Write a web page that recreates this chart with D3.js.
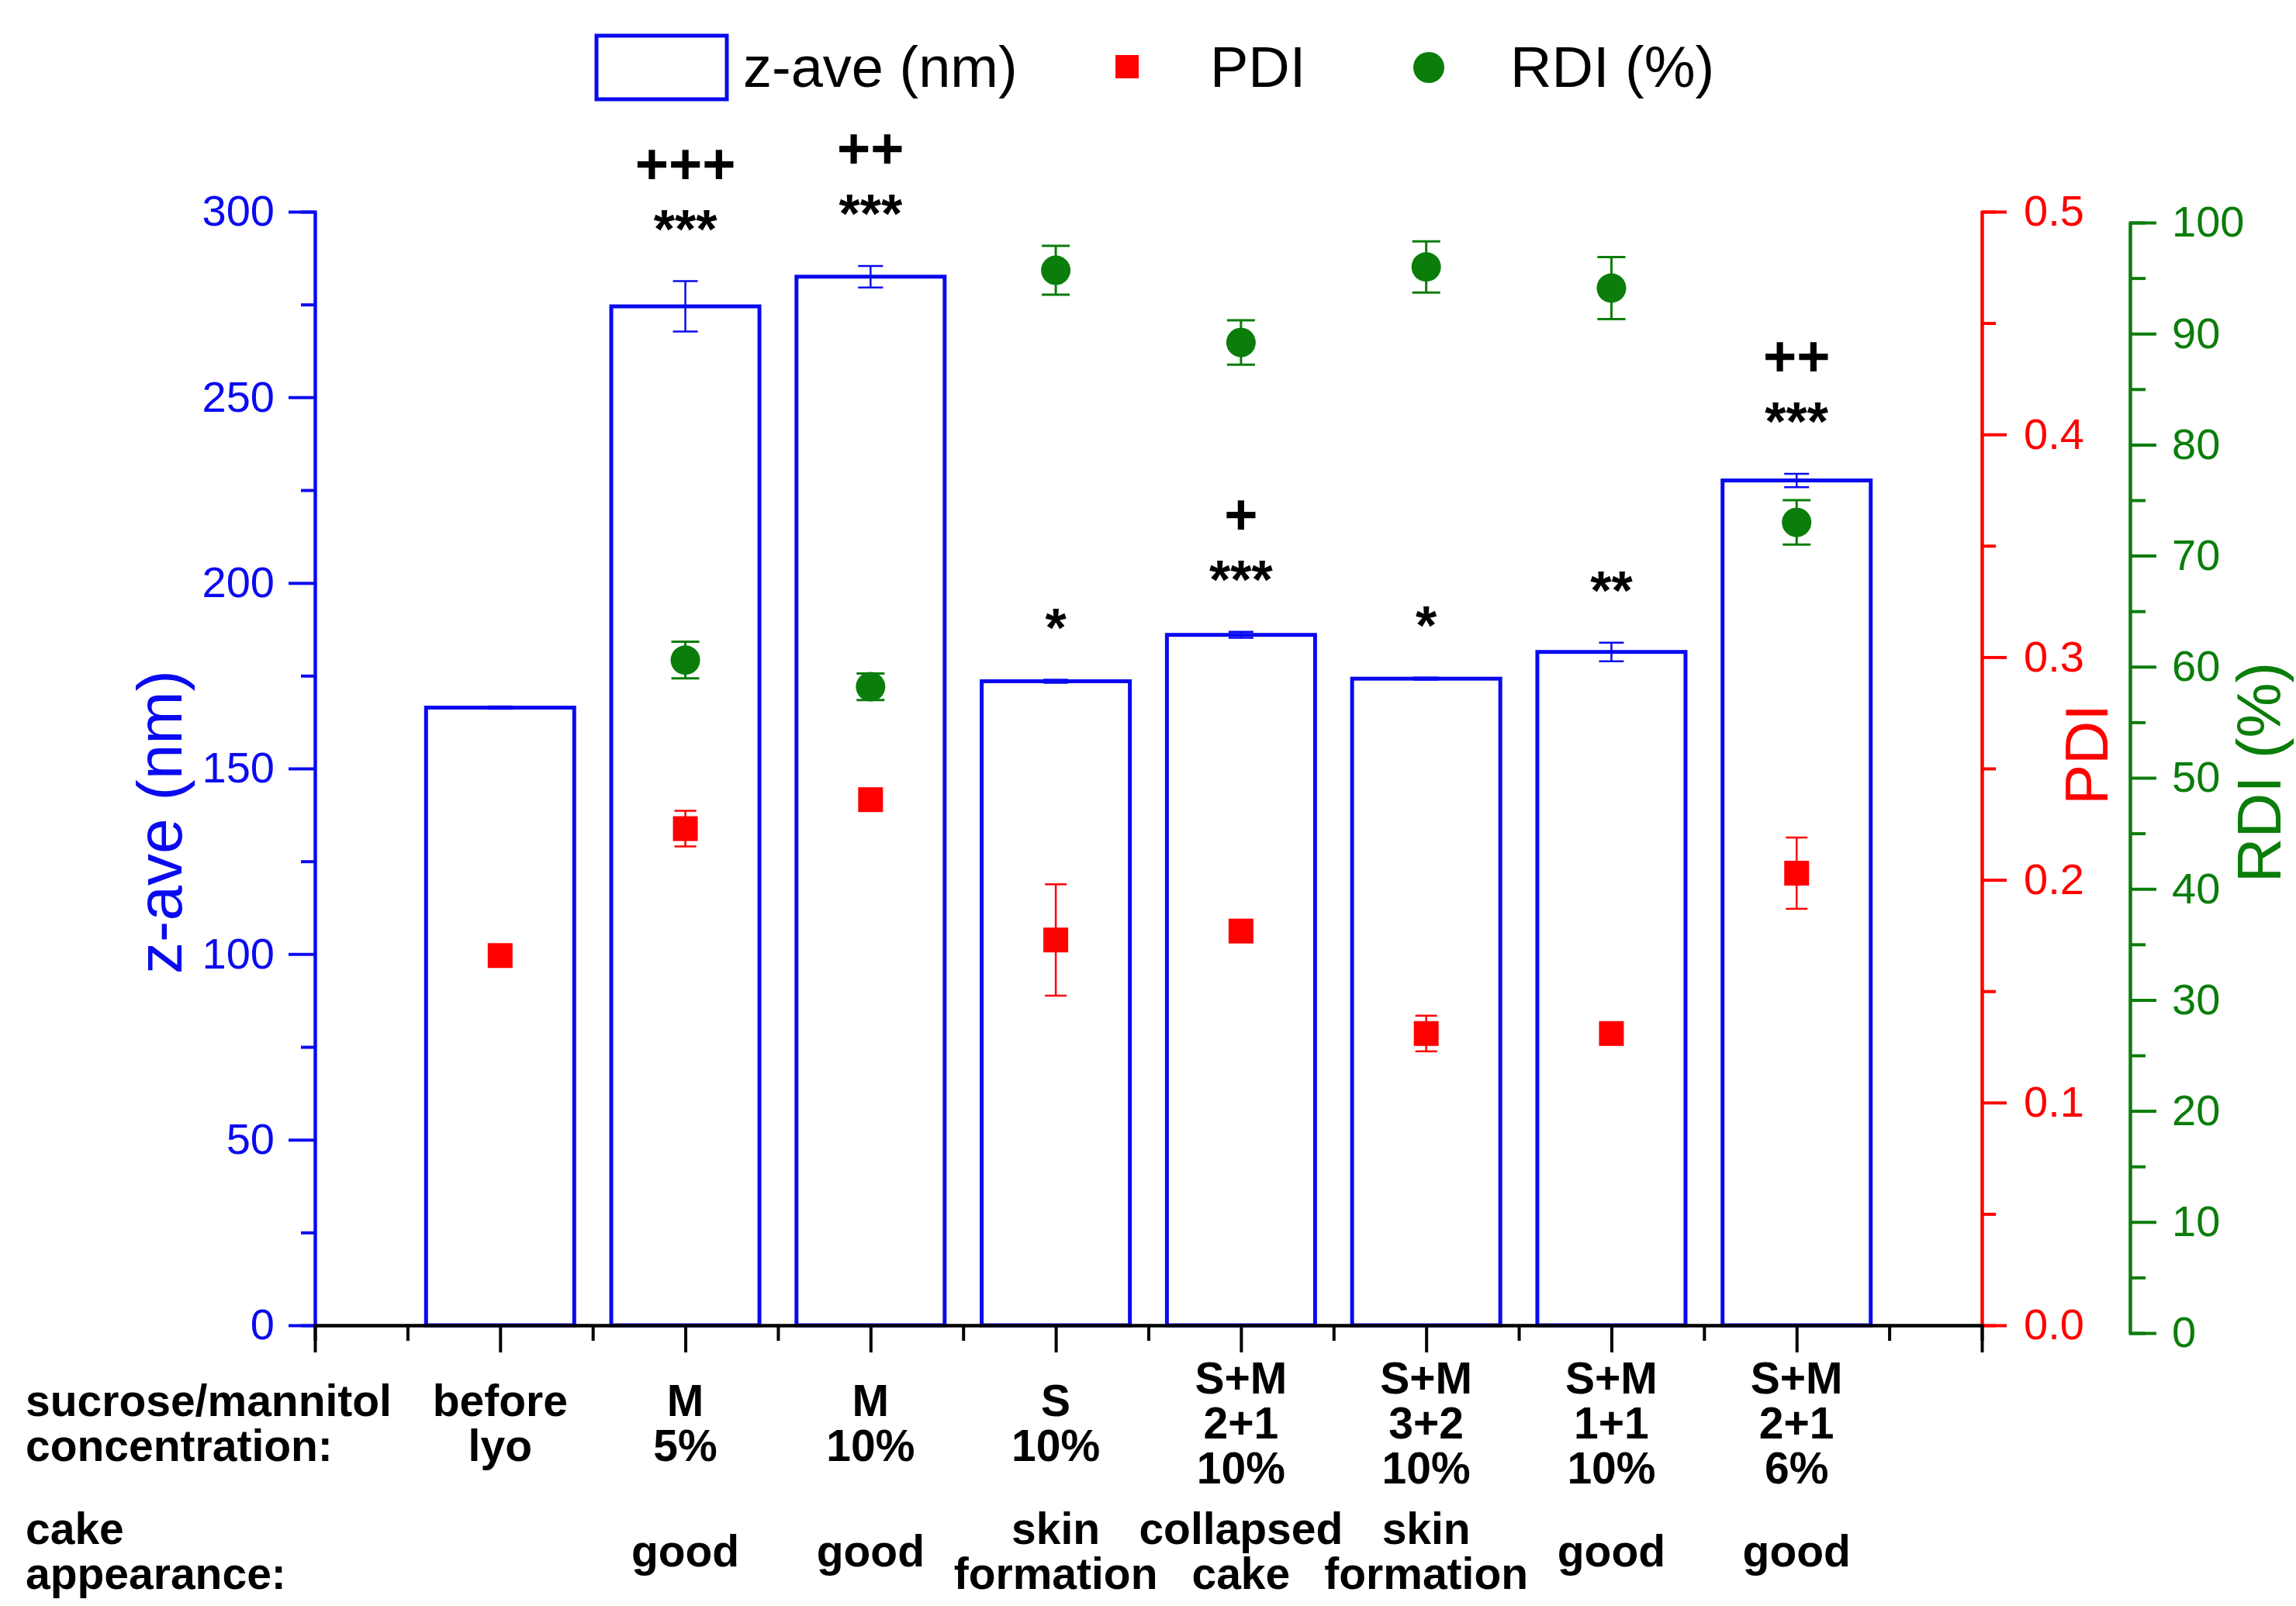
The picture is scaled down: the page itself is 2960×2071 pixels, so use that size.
<!DOCTYPE html>
<html>
<head>
<meta charset="utf-8">
<script src="https://cdn.jsdelivr.net/npm/d3@7"></script>
<style>
  body { margin: 0; background: #fff; }
  svg { display: block; font-family: "Liberation Sans", Arial, sans-serif; }
</style>
</head>
<body>
<div id="chart"></div>
<script>
// ---- data ----
const categories = ["before lyo", "M 5%", "M 10%", "S 10%", "S+M 2+1 10%", "S+M 3+2 10%", "S+M 1+1 10%", "S+M 2+1 6%"];
const zAve    = [166.4, 274.5, 282.5, 173.5, 186.0, 174.2, 181.4, 227.6];
const zAveErr = [0.3, 6.8, 2.9, 0.4, 0.8, 0.3, 2.5, 1.8];
const pdi     = [0.166, 0.223, 0.236, 0.173, 0.177, 0.131, 0.131, 0.203];
const pdiErr  = [0, 0.008, 0, 0.025, 0, 0.008, 0, 0.016];
const rdi     = [null, 60.6, 58.2, 95.7, 89.2, 96.0, 94.1, 73.0];
const rdiErr  = [0, 1.65, 1.2, 2.2, 2.0, 2.3, 2.8, 2.0];
const stars   = ["", "***", "***", "*", "***", "*", "**", "***"];
const plusses = ["", "+++", "++", "", "+", "", "", "++"];
const concLabels = [["before", "lyo"], ["M", "5%"], ["M", "10%"], ["S", "10%"],
  ["S+M", "2+1", "10%"], ["S+M", "3+2", "10%"], ["S+M", "1+1", "10%"], ["S+M", "2+1", "6%"]];
const cakeLabels = [[], ["good"], ["good"], ["skin", "formation"], ["collapsed", "cake"],
  ["skin", "formation"], ["good"], ["good"]];
const zTicks = [0, 50, 100, 150, 200, 250, 300];
const pdiTicks = [0, 0.1, 0.2, 0.3, 0.4, 0.5];
const rdiTicks = [0, 10, 20, 30, 40, 50, 60, 70, 80, 90, 100];

const width = 2960, height = 2071;
const BLUE = "#0a0af0", RED = "#ff0000", GREEN = "#0a7d0a";

const svg = d3.select("#chart").append("svg")
    .attr("width", width)
    .attr("height", height);

// scales: categories sit on 1..8, axis runs 0..9
const x = d3.scaleLinear().domain([0, 9]).range([406, 2555]);
const yZ = d3.scaleLinear().domain([0, 300]).range([1709, 273]);
const yP = d3.scaleLinear().domain([0, 0.5]).range([1709, 273]);
const yR = d3.scaleLinear().domain([0, 100]).range([1719, 287]);
const band = (x(1) - x(0)) * 0.8;

const data = categories.map((c, i) => ({
  i, c, z: zAve[i], zErr: zAveErr[i], p: pdi[i], pErr: pdiErr[i], r: rdi[i], rErr: rdiErr[i]
}));

// helper for styling an axis group
const styleAxis = (g, color, fs) => {
  g.selectAll("path, line").attr("stroke", color).attr("stroke-width", 4);
  g.selectAll("text").attr("fill", color).attr("font-size", fs);
};

// ---- bars ----
svg.append("g").selectAll("rect")
    .data(data)
    .join("rect")
    .attr("x", d => x(d.i + 1) - band / 2)
    .attr("y", d => yZ(d.z))
    .attr("width", band)
    .attr("height", d => yZ(0) - yZ(d.z))
    .attr("fill", "none")
    .attr("stroke", BLUE)
    .attr("stroke-width", 5);

// generic error bar drawer
const errorBars = (rows, yScale, val, err, color, cap, sw) => {
  const g = svg.append("g").attr("stroke", color).attr("stroke-width", sw);
  rows.forEach(d => {
    const cx = x(d.i + 1), lo = yScale(val(d) - err(d)), hi = yScale(val(d) + err(d));
    g.append("line").attr("x1", cx).attr("x2", cx).attr("y1", lo).attr("y2", hi);
    [lo, hi].forEach(yy => g.append("line")
        .attr("x1", cx - cap / 2).attr("x2", cx + cap / 2)
        .attr("y1", yy).attr("y2", yy));
  });
};

errorBars(data, yZ, d => d.z, d => d.zErr, BLUE, 32, 2.5);
errorBars(data.filter(d => d.pErr > 0), yP, d => d.p, d => d.pErr, RED, 28, 2.5);
errorBars(data.filter(d => d.r !== null), yR, d => d.r, d => d.rErr, GREEN, 36, 3);

// ---- PDI squares ----
svg.append("g").selectAll("rect")
    .data(data)
    .join("rect")
    .attr("x", d => x(d.i + 1) - 16)
    .attr("y", d => yP(d.p) - 16)
    .attr("width", 32)
    .attr("height", 32)
    .attr("fill", RED);

// ---- RDI circles ----
svg.append("g").selectAll("circle")
    .data(data.filter(d => d.r !== null))
    .join("circle")
    .attr("cx", d => x(d.i + 1))
    .attr("cy", d => yR(d.r))
    .attr("r", 19)
    .attr("fill", GREEN);

// ---- significance marks above bars ----
const marks = svg.append("g")
    .attr("text-anchor", "middle")
    .attr("font-weight", "bold")
    .attr("fill", "#000");
data.forEach(d => {
  const c = yZ(d.z + d.zErr) - 84;   // visual centre of the star row
  if (stars[d.i]) marks.append("text")
      .attr("x", x(d.i + 1)).attr("y", c + 41)
      .attr("font-size", 70).text(stars[d.i]);
  if (plusses[d.i]) marks.append("text")
      .attr("x", x(d.i + 1)).attr("y", c - 68 + 26)
      .attr("font-size", 74).text(plusses[d.i]);
});

// ---- axes ----
const leftMajor = svg.append("g").attr("transform", `translate(${x(0)},0)`)
    .call(d3.axisLeft(yZ).tickValues(zTicks).tickSize(34).tickSizeOuter(0).tickPadding(18));
styleAxis(leftMajor, BLUE, 56);
const leftMinor = svg.append("g").attr("transform", `translate(${x(0)},0)`)
    .call(d3.axisLeft(yZ).tickValues(d3.range(25, 300, 50)).tickSize(18).tickFormat(""));
styleAxis(leftMinor, BLUE, 56);

const pdiMajor = svg.append("g").attr("transform", `translate(${x(9)},0)`)
    .call(d3.axisRight(yP).tickValues(pdiTicks).tickSize(32).tickSizeOuter(0)
      .tickPadding(22).tickFormat(d3.format(".1f")));
styleAxis(pdiMajor, RED, 56);
const pdiMinor = svg.append("g").attr("transform", `translate(${x(9)},0)`)
    .call(d3.axisRight(yP).tickValues(d3.range(0.05, 0.5, 0.1)).tickSize(18).tickFormat(""));
styleAxis(pdiMinor, RED, 56);

const rdiMajor = svg.append("g").attr("transform", "translate(2746,0)")
    .call(d3.axisRight(yR).tickValues(rdiTicks).tickSize(34).tickSizeOuter(0).tickPadding(20));
styleAxis(rdiMajor, GREEN, 56);
const rdiMinor = svg.append("g").attr("transform", "translate(2746,0)")
    .call(d3.axisRight(yR).tickValues(d3.range(5, 100, 10)).tickSize(20).tickFormat(""));
styleAxis(rdiMinor, GREEN, 56);

const bottomMajor = svg.append("g").attr("transform", `translate(0,${yZ(0)})`)
    .call(d3.axisBottom(x).tickValues(d3.range(0, 10)).tickSize(35).tickSizeOuter(0).tickFormat(""));
styleAxis(bottomMajor, "#000", 56);
const bottomMinor = svg.append("g").attr("transform", `translate(0,${yZ(0)})`)
    .call(d3.axisBottom(x).tickValues(d3.range(0.5, 9, 1)).tickSize(20).tickFormat(""));
styleAxis(bottomMinor, "#000", 56);

// axis titles
svg.append("text")
    .attr("transform", "translate(205,1060) rotate(-90)")
    .attr("text-anchor", "middle").attr("dy", "0.35em")
    .attr("font-size", 82).attr("fill", BLUE).text("z-ave (nm)");
svg.append("text")
    .attr("transform", "translate(2690,973) rotate(-90)")
    .attr("text-anchor", "middle").attr("dy", "0.35em")
    .attr("font-size", 78).attr("fill", RED).text("PDI");
svg.append("text")
    .attr("transform", "translate(2912,996) rotate(-90)")
    .attr("text-anchor", "middle").attr("dy", "0.35em")
    .attr("font-size", 80).attr("fill", GREEN).text("RDI (%)");

// ---- category labels under the axis ----
const multiLine = (g, lines, cx, centre, gap, anchor) => {
  const first = centre + 20 - (lines.length - 1) * gap / 2;
  lines.forEach((t, k) => g.append("text")
      .attr("x", cx).attr("y", first + k * gap)
      .attr("text-anchor", anchor).text(t));
};
const labels = svg.append("g")
    .attr("font-weight", "bold").attr("font-size", 57).attr("fill", "#000");
concLabels.forEach((lines, i) => multiLine(labels, lines, x(i + 1), 1835, 58, "middle"));
cakeLabels.forEach((lines, i) => multiLine(labels, lines, x(i + 1), 2000, 58, "middle"));
multiLine(labels, ["sucrose/mannitol", "concentration:"], 33, 1835, 58, "start");
multiLine(labels, ["cake", "appearance:"], 33, 2000, 58, "start");

// ---- legend ----
const legend = svg.append("g").attr("font-size", 74).attr("fill", "#000");
legend.append("rect")
    .attr("x", 769).attr("y", 46).attr("width", 168).attr("height", 82)
    .attr("fill", "none").attr("stroke", BLUE).attr("stroke-width", 5);
legend.append("text").attr("x", 958).attr("y", 112).text("z-ave (nm)");
legend.append("rect")
    .attr("x", 1438).attr("y", 71).attr("width", 30).attr("height", 30).attr("fill", RED);
legend.append("text").attr("x", 1560).attr("y", 112).text("PDI");
legend.append("circle")
    .attr("cx", 1842).attr("cy", 87).attr("r", 20).attr("fill", GREEN);
legend.append("text").attr("x", 1947).attr("y", 112).text("RDI (%)");
</script>
</body>
</html>
